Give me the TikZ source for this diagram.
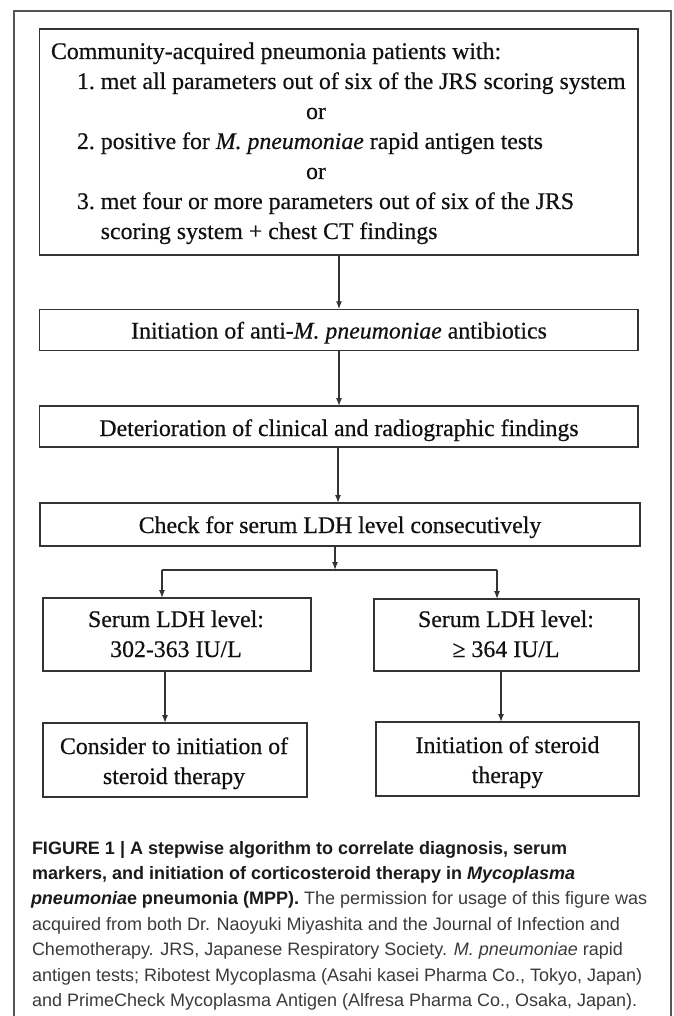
\documentclass[tikz,border=0pt]{standalone}
\usepackage{fontspec}
\setmainfont{Liberation Serif}
\newfontfamily\boxfont{Liberation Serif}[FakeBold=0.5]
\newfontfamily\capfont{Liberation Sans}
\usetikzlibrary{arrows.meta}
\definecolor{framegray}{HTML}{555555}
\definecolor{boxline}{HTML}{333333}
\definecolor{boxtext}{HTML}{111111}
\definecolor{captext}{HTML}{3A3A3A}
\definecolor{capbold}{HTML}{1A1A1A}
\tikzset{
  boxnode/.style={draw=boxline, line width=1.4pt, rectangle, inner sep=0pt, outer sep=0pt},
  boxtxt/.style={inner sep=0pt, outer sep=0pt, text=boxtext, font=\boxfont\fontsize{23.8}{30}\selectfont},
  captxt/.style={inner sep=0pt, outer sep=0pt, anchor=base west, text=captext, font=\capfont\fontsize{18}{25}\selectfont},
  conn/.style={draw=boxline, line width=1.3pt},
  arr/.style={conn, -{Latex[length=8pt,width=6pt]}},
}
\begin{document}
\begin{tikzpicture}[x=1pt,y=-1pt]
\useasboundingbox (0,0) rectangle (673,1016);
% outer frame (open at bottom)
\draw[framegray, line width=1.2pt] (14,1016) -- (14,11) -- (671,11) -- (671,1016);

% boxes
\node[boxnode, minimum width=598.5pt, minimum height=226pt] (box1) at (338.75,142) {};
\node[boxnode, minimum width=598.5pt, minimum height=41.5pt] (box2) at (338.75,330) {};
\node[boxnode, minimum width=598.5pt, minimum height=41pt] (box3) at (338.75,426.5) {};
\node[boxnode, minimum width=600pt, minimum height=43pt] (box4) at (340,524.5) {};
\node[boxnode, minimum width=268pt, minimum height=73pt] (box5) at (177,634.5) {};
\node[boxnode, minimum width=265pt, minimum height=72pt] (box6) at (506.5,635) {};
\node[boxnode, minimum width=264pt, minimum height=74pt] (box7) at (175,760) {};
\node[boxnode, minimum width=263pt, minimum height=74pt] (box8) at (507.5,759) {};

% box 1 text
\node[boxtxt, anchor=base west] (t1a) at (51,59) {Community-acquired pneumonia patients with:};
\node[boxtxt, anchor=base west] (t1b) at (77,89) {1.\ met all parameters out of six of the JRS scoring system};
\node[boxtxt, anchor=base] (t1c) at (316,119) {or};
\node[boxtxt, anchor=base west] (t1d) at (77,149) {2.\ positive for \textit{M.\ pneumoniae} rapid antigen tests};
\node[boxtxt, anchor=base] (t1e) at (316,179) {or};
\node[boxtxt, anchor=base west] (t1f) at (77,209) {3.\ met four or more parameters out of six of the JRS};
\node[boxtxt, anchor=base west] (t1g) at (100.8,239) {scoring system + chest CT findings};

% single line boxes
\node[boxtxt, anchor=base] (t2) at (339,338.5) {Initiation of anti-\textit{M.\ pneumoniae} antibiotics};
\node[boxtxt, anchor=base] (t3) at (339,436) {Deterioration of clinical and radiographic findings};
\node[boxtxt, anchor=base] (t4) at (340,533) {Check for serum LDH level consecutively};

% two-line boxes
\node[boxtxt, anchor=base] (t5a) at (176,627) {Serum LDH level:};
\node[boxtxt, anchor=base] (t5b) at (176,657) {302-363 IU/L};
\node[boxtxt, anchor=base] (t6a) at (506,627) {Serum LDH level:};
\node[boxtxt, anchor=base] (t6b) at (506,657) {≥ 364 IU/L};
\node[boxtxt, anchor=base] (t7a) at (174,754) {Consider to initiation of};
\node[boxtxt, anchor=base] (t7b) at (174,784) {steroid therapy};
\node[boxtxt, anchor=base] (t8a) at (507.5,753) {Initiation of steroid};
\node[boxtxt, anchor=base] (t8b) at (507.5,783) {therapy};

% connectors
\coordinate (c12) at (339,0);
\coordinate (c34) at (338,0);
\coordinate (j) at (335,570);
\coordinate (jl) at (162,570);
\coordinate (jr) at (497,570);
\coordinate (c57) at (165,0);
\coordinate (c68) at (501,0);
\draw[arr] (box1.south -| c12) -- (box2.north -| c12);
\draw[arr] (box2.south -| c12) -- (box3.north -| c12);
\draw[arr] (box3.south -| c34) -- (box4.north -| c34);
\draw[arr] (box4.south -| j) -- (j);
\draw[conn] (jl) -- (jr);
\draw[arr] (jl) -- (jl |- box5.north);
\draw[arr] (jr) -- (jr |- box6.north);
\draw[arr] (box5.south -| c57) -- (box7.north -| c57);
\draw[arr] (box6.south -| c68) -- (box8.north -| c68);

% caption
\node[captxt] (cap1) at (32,854) {\color{capbold}\bfseries FIGURE 1 | A stepwise algorithm to correlate diagnosis, serum};
\node[captxt] (cap2) at (32,879.4) {\color{capbold}\bfseries markers, and initiation of corticosteroid therapy in \textit{Mycoplasma}};
\node[captxt] (cap3) at (31,904.8) {{\color{capbold}\bfseries\textit{pneumonia}e pneumonia (MPP).} The permission for usage of this figure was};
\node[captxt] (cap4) at (32,930.2) {acquired from both Dr. Naoyuki Miyashita and the Journal of Infection and};
\node[captxt] (cap5) at (32,955.6) {Chemotherapy. JRS, Japanese Respiratory Society. \textit{M. pneumoniae} rapid};
\node[captxt] (cap6) at (32,981) {antigen tests; Ribotest Mycoplasma (Asahi kasei Pharma Co., Tokyo, Japan)};
\node[captxt] (cap7) at (32,1006.4) {and PrimeCheck Mycoplasma Antigen (Alfresa Pharma Co., Osaka, Japan).};
\end{tikzpicture}
\end{document}
